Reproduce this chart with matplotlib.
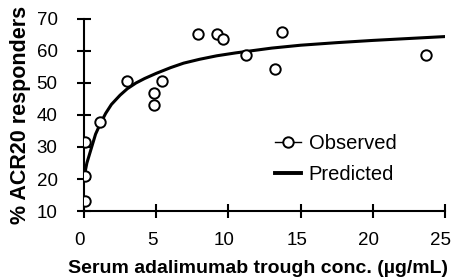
import matplotlib
matplotlib.use("Agg")
import matplotlib.pyplot as plt
from matplotlib.lines import Line2D
from matplotlib.transforms import ScaledTranslation

plt.rcParams['font.family'] = ['Liberation Sans', 'DejaVu Sans']

# Observed data
obs_conc = [0.05, 0.05, 0.05, 1.1, 3.0, 4.85, 4.85, 5.4, 7.9, 9.2, 9.6, 11.25, 13.2, 13.7, 23.7]
obs_acr20 = [13.2, 20.8, 31.5, 37.8, 50.5, 47.0, 43.0, 50.5, 65.2, 65.3, 63.6, 58.6, 54.4, 65.8, 58.6]

# Predicted curve
pred_conc = [0.0, 0.2, 0.5, 0.8, 1.1, 1.5, 1.9, 2.5, 3.0, 3.6, 4.2, 5.0, 6.0, 6.9, 8.0, 9.2, 10.5, 11.5, 13.0, 15.0, 17.5, 20.0, 22.5, 25.0]
pred_acr20 = [20.5, 25.0, 29.5, 34.0, 37.0, 40.5, 43.3, 46.2, 48.2, 50.0, 51.4, 53.0, 54.8, 56.2, 57.4, 58.5, 59.4, 60.0, 60.9, 61.8, 62.6, 63.3, 63.9, 64.5]

x_ticks = [0, 5, 10, 15, 20, 25]
y_ticks = [10, 20, 30, 40, 50, 60, 70]

fig = plt.figure(figsize=(4.55, 2.79), dpi=100)
ax = fig.add_axes([0.1846, 0.2437, 0.7934, 0.6883])

ax.plot(pred_conc, pred_acr20, color='black', linewidth=2.2, zorder=2)
ax.plot(obs_conc, obs_acr20, linestyle='none', marker='o', markersize=7.5,
        markerfacecolor='white', markeredgecolor='black', markeredgewidth=1.4, zorder=3)

ax.set_xlim(0, 25)
ax.set_ylim(10, 70)
ax.set_xticks(x_ticks)
ax.set_yticks(y_ticks)
for s in ['top', 'right']:
    ax.spines[s].set_visible(False)
for s in ['left', 'bottom']:
    ax.spines[s].set_linewidth(1.5)
ax.tick_params(direction='inout', length=10, width=1.5, labelsize=13.5, pad=14)
ax.tick_params(axis='x', pad=10)
shift = ScaledTranslation(-4 / 100, 0, fig.dpi_scale_trans)
for lbl in ax.get_xticklabels():
    lbl.set_transform(lbl.get_transform() + shift)

ax.set_ylabel('% ACR20 responders', fontsize=15.5, fontweight='bold', labelpad=4)
ax.set_xlabel('Serum adalimumab trough conc. (\u00b5g/mL)', fontsize=14, fontweight='bold')
ax.xaxis.set_label_coords(0.482, -0.255)

handles = [
    Line2D([0], [0], color='black', linewidth=1.0, marker='o', markersize=7.5,
           markerfacecolor='white', markeredgecolor='black', markeredgewidth=1.4),
    Line2D([0], [0], color='black', linewidth=2.8),
]
ax.legend(handles, ['Observed', 'Predicted'], frameon=False, fontsize=14.5,
          loc='center left', bbox_to_anchor=(0.48, 0.27), handlelength=1.25,
          handletextpad=0.4, labelspacing=0.6)

fig.savefig('out.png', dpi=100)
